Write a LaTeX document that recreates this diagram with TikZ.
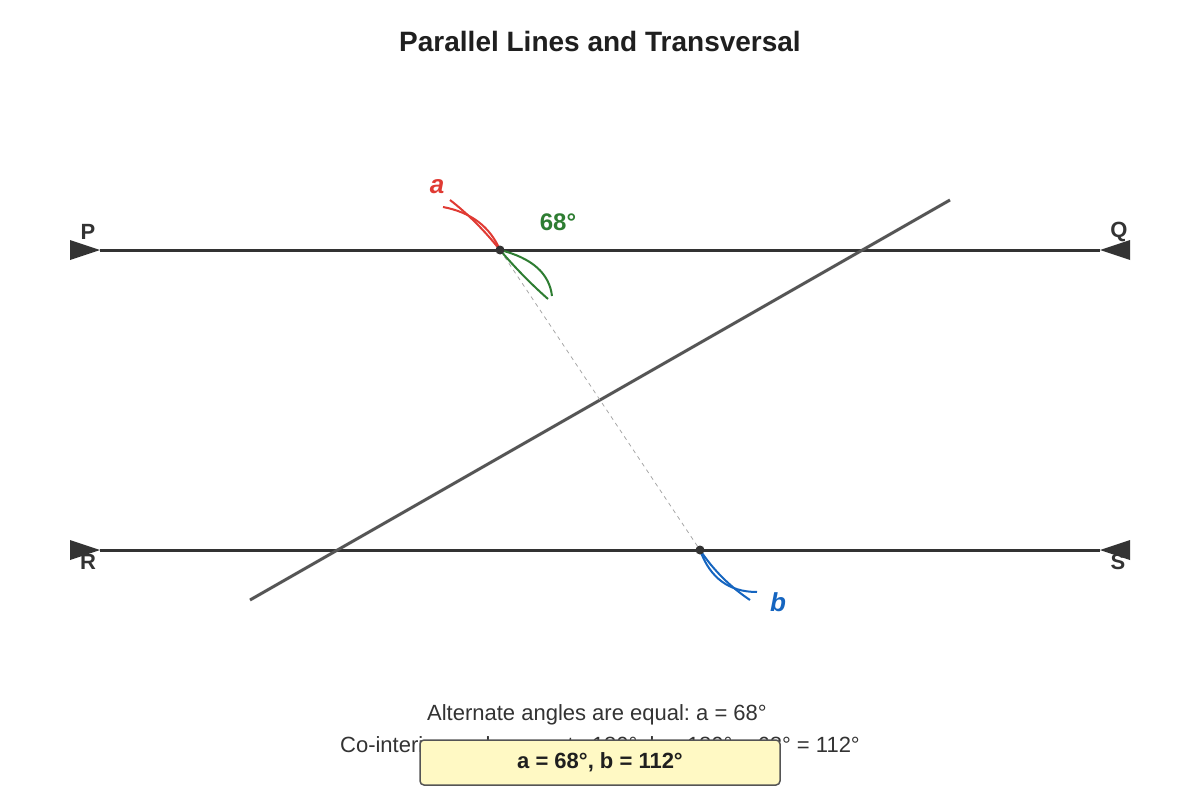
\documentclass[tikz,border=0pt]{standalone}
\usepackage{fontspec}
\setmainfont{Liberation Sans}
\frenchspacing
\definecolor{linec}{HTML}{333333}
\definecolor{transc}{HTML}{555555}
\definecolor{redc}{HTML}{E03A33}
\definecolor{greenc}{HTML}{2E7D32}
\definecolor{bluec}{HTML}{1565C0}
\definecolor{textc}{HTML}{333333}
\definecolor{boxfill}{HTML}{FFF9C4}
\tikzset{
  parline/.style={draw=linec, line width=3pt},
  tipmark/.style={fill=linec, draw=none},
  ptlabel/.style={font=\fontsize{22}{26}\selectfont\bfseries, text=linec, inner sep=0pt},
  arcred/.style={draw=redc, line width=2pt},
  arcgreen/.style={draw=greenc, line width=2pt},
  arcblue/.style={draw=bluec, line width=2pt},
  note/.style={font=\fontsize{22}{26}\selectfont, text=textc, inner sep=0pt},
}
\begin{document}
\begin{tikzpicture}[x=1pt,y=-1pt]
\useasboundingbox (0,0) rectangle (1200,800);
\fill[white] (0,0) rectangle (1200,800);
% title
\node[font=\fontsize{28}{33}\selectfont\bfseries, text=black!88, inner sep=0pt] (title) at (600,41) {Parallel Lines and Transversal};
% coordinates
\coordinate (P) at (100,250);
\coordinate (Q) at (1100,250);
\coordinate (R) at (100,550);
\coordinate (S) at (1100,550);
\coordinate (T1) at (250,600);
\coordinate (T2) at (950,200);
\coordinate (A) at (500,250);
\coordinate (B) at (700,550);
% parallel lines
\draw[parline] (P) -- (Q);
\draw[parline] (R) -- (S);
% arrow tips
\fill[tipmark] (70,240) -- (70,260) -- (P) -- cycle;
\fill[tipmark] (1130,240) -- (1130,260) -- (Q) -- cycle;
\fill[tipmark] (70,540) -- (70,560) -- (R) -- cycle;
\fill[tipmark] (1130,540) -- (1130,560) -- (S) -- cycle;
% transversal
\draw[draw=transc, line width=3pt] (T1) -- (T2);
% dashed helper
\draw[draw=gray!70, line width=0.8pt, dash pattern=on 4pt off 4pt] (A) -- (B);
% arcs
\draw[arcred] (443,207) .. controls (471,212.3) and (490,226.7) .. (A);
\draw[arcred] (450,200) .. controls (468,214) and (484.7,230.7) .. (A);
\draw[arcgreen] (A) .. controls (532,258) and (549.3,273.3) .. (552,296);
\draw[arcgreen] (A) .. controls (514.7,267.3) and (530.7,283.7) .. (548,299);
\draw[arcblue] (B) .. controls (710,578) and (729,592) .. (757,592);
\draw[arcblue] (B) .. controls (713.3,570) and (730,586.7) .. (750,600);
% points
\fill[linec] (A) circle (4.5);
\fill[linec] (B) circle (4.5);
% labels
\node[ptlabel] (lP) at (88,232) {P};
\node[ptlabel] (lQ) at (1119,232) {Q};
\node[ptlabel] (lR) at (88,562) {R};
\node[ptlabel] (lS) at (1118,562) {S};
\node[font=\fontsize{26}{30}\selectfont\bfseries\itshape, text=redc, inner sep=0pt] (la) at (437,187) {a};
\node[font=\fontsize{24}{28}\selectfont\bfseries, text=greenc, inner sep=0pt] (l68) at (558,222) {68°};
\node[font=\fontsize{26}{30}\selectfont\bfseries\itshape, text=bluec, inner sep=0pt] (lb) at (778,602) {b};
% notes
\node[note] (n1) at (597,714.5) {Alternate angles are equal: a = 68°};
\node[note] (n2) at (600,746.5) {Co-interior angles sum to 180°, b = 180° − 68° = 112°};
\node[draw=transc, line width=1.5pt, fill=boxfill, rounded corners=4pt, minimum width=360pt, minimum height=45pt, inner sep=0pt, font=\fontsize{22}{26}\selectfont\bfseries, text=black!88] (res) at (600,762.5) {a = 68°, b = 112°};
\end{tikzpicture}
\end{document}
